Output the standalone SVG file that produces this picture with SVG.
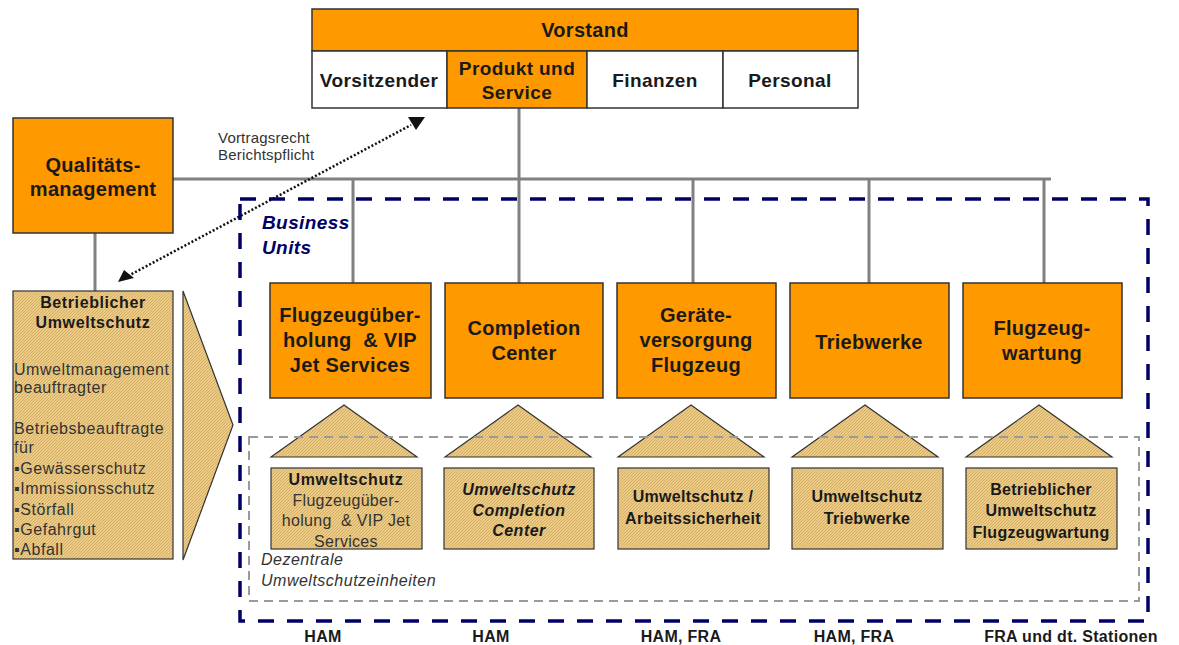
<svg xmlns="http://www.w3.org/2000/svg" width="1179" height="645" viewBox="0 0 1179 645">
<style>
  text { font-family: "Liberation Sans", Arial, sans-serif; fill: #1a1a1a; white-space: pre; }
  .org { fill: #FF9900; stroke: #333333; stroke-width: 1.5; }
  .wht { fill: #FFFFFF; stroke: #333333; stroke-width: 1.5; }
  .hat { fill: url(#hatch); stroke: #333333; stroke-width: 1.2; }
  .conn { stroke: #808080; stroke-width: 3; fill: none; }
  .big { font-size: 20px; font-weight: bold; text-anchor: middle; letter-spacing: 0.3px; }
  .cell { font-size: 19px; font-weight: bold; text-anchor: middle; letter-spacing: 0.4px; }
  .sm { font-size: 16px; text-anchor: middle; letter-spacing: 0.3px; fill: #333; }
  .smb { font-size: 16px; font-weight: bold; text-anchor: middle; letter-spacing: 0.3px; }
  .lst { font-size: 16px; letter-spacing: 0.55px; fill: #333; }
  .loc { font-size: 16px; font-weight: bold; text-anchor: middle; letter-spacing: 0.3px; }
</style>
<defs>
  <pattern id="hatch" width="3" height="3" patternUnits="userSpaceOnUse">
    <rect width="3" height="3" fill="#EECB84"/>
    <path d="M-1,1 L1,-1 M0,3 L3,0 M2,4 L4,2" stroke="#C6A45C" stroke-width="0.7"/>
  </pattern>
</defs>
<rect width="1179" height="645" fill="#FFFFFF"/>

<g id="connectors">
  <line class="conn" x1="173" y1="179" x2="1051" y2="179"/>
  <line class="conn" x1="519" y1="108" x2="519" y2="283"/>
  <line class="conn" x1="353" y1="179" x2="353" y2="283"/>
  <line class="conn" x1="693" y1="179" x2="693" y2="283"/>
  <line class="conn" x1="869" y1="179" x2="869" y2="283"/>
  <line class="conn" x1="1044" y1="179" x2="1044" y2="283"/>
  <line class="conn" x1="95" y1="233" x2="95" y2="291"/>
  <g id="dotted-arrow">
    <line x1="128" y1="276" x2="411" y2="125" stroke="#111" stroke-width="2.5" stroke-dasharray="2 2"/>
    <polygon points="118,282 124,270 134,278" fill="#111"/>
    <polygon points="408,117 425,117 416,130" fill="#111"/>
  </g>
</g>

<g id="business-units-frame">
  <rect x="240" y="199" width="908" height="422" fill="none" stroke="#000066" stroke-width="3.5" stroke-dasharray="16 13"/>
  <text x="262" y="229" font-size="19" font-style="italic" font-weight="bold" style="fill:#000066;letter-spacing:0.4px">Business</text>
  <text x="262" y="254" font-size="19" font-style="italic" font-weight="bold" style="fill:#000066;letter-spacing:0.4px">Units</text>
</g>

<g id="vorstand">
  <rect class="org" x="312" y="9" width="546" height="42"/>
  <text class="big" x="585" y="37">Vorstand</text>
  <rect class="wht" x="312" y="51" width="135" height="57"/>
  <text class="cell" x="379" y="87">Vorsitzender</text>
  <rect class="org" x="447" y="51" width="140" height="57"/>
  <text class="cell" x="517" y="75">Produkt und</text>
  <text class="cell" x="517" y="99">Service</text>
  <rect class="wht" x="587" y="51" width="136" height="57"/>
  <text class="cell" x="655" y="87">Finanzen</text>
  <rect class="wht" x="723" y="51" width="135" height="57"/>
  <text class="cell" x="790" y="87">Personal</text>
</g>

<g id="qualitaetsmanagement">
  <rect class="org" x="13" y="118" width="160" height="115"/>
  <text class="big" x="93" y="172">Qualitäts-</text>
  <text class="big" x="93" y="196">management</text>
</g>

<g id="vortrag-label">
  <text x="218" y="143" font-size="15" style="fill:#333;letter-spacing:0.2px">Vortragsrecht</text>
  <text x="218" y="160" font-size="15" style="fill:#333;letter-spacing:0.2px">Berichtspflicht</text>
</g>

<g id="betrieblicher-umweltschutz">
  <rect class="hat" x="13" y="291" width="160" height="268"/>
  <text x="93" y="308" font-size="16" font-weight="bold" text-anchor="middle" style="letter-spacing:0.6px">Betrieblicher</text>
  <text x="93" y="328" font-size="16" font-weight="bold" text-anchor="middle" style="letter-spacing:0.6px">Umweltschutz</text>
  <text class="lst" x="14" y="375">Umweltmanagement</text>
  <text class="lst" x="14" y="393">beauftragter</text>
  <text class="lst" x="14" y="434">Betriebsbeauftragte</text>
  <text class="lst" x="14" y="453">für</text>
  <text class="lst" x="14" y="474">▪Gewässerschutz</text>
  <text class="lst" x="14" y="494">▪Immissionsschutz</text>
  <text class="lst" x="14" y="515">▪Störfall</text>
  <text class="lst" x="14" y="535">▪Gefahrgut</text>
  <text class="lst" x="14" y="555">▪Abfall</text>
</g>

<g id="chevron">
  <polygon class="hat" points="183,291 233,425 183,560"/>
</g>

<g id="bu-flugzeugueberholung">
  <rect class="org" x="270" y="283" width="161" height="115"/>
  <text class="big" x="350" y="322">Flugzeugüber-</text>
  <text class="big" x="350" y="347">holung  &amp; VIP</text>
  <text class="big" x="350" y="372">Jet Services</text>
</g>
<g id="bu-completion">
  <rect class="org" x="445" y="283" width="158" height="115"/>
  <text class="big" x="524" y="335">Completion</text>
  <text class="big" x="524" y="360">Center</text>
</g>
<g id="bu-geraeteversorgung">
  <rect class="org" x="617" y="283" width="159" height="115"/>
  <text class="big" x="696" y="322">Geräte-</text>
  <text class="big" x="696" y="347">versorgung</text>
  <text class="big" x="696" y="372">Flugzeug</text>
</g>
<g id="bu-triebwerke">
  <rect class="org" x="790" y="283" width="159" height="115"/>
  <text class="big" x="869" y="349">Triebwerke</text>
</g>
<g id="bu-flugzeugwartung">
  <rect class="org" x="963" y="283" width="159" height="115"/>
  <text class="big" x="1042" y="335">Flugzeug-</text>
  <text class="big" x="1042" y="360">wartung</text>
</g>

<g id="triangles">
  <polygon class="hat" points="271,457 344,405 417,457"/>
  <polygon class="hat" points="445,457 518,405 591,457"/>
  <polygon class="hat" points="618,457 691,405 764,457"/>
  <polygon class="hat" points="792,457 865,405 938,457"/>
  <polygon class="hat" points="966,457 1039,405 1112,457"/>
</g>

<g id="dezentrale-frame">
  <rect x="249" y="437" width="890" height="164" fill="none" stroke="#9a9a9a" stroke-width="2" stroke-dasharray="9 6"/>
  <text x="261" y="565" font-size="16" font-style="italic" style="fill:#333;letter-spacing:0.5px">Dezentrale</text>
  <text x="261" y="586" font-size="16" font-style="italic" style="fill:#333;letter-spacing:0.5px">Umweltschutzeinheiten</text>
</g>

<g id="ue-flugzeugueberholung">
  <rect class="hat" x="271" y="468" width="151" height="81"/>
  <text x="346" y="485" font-size="16" font-weight="bold" text-anchor="middle" style="letter-spacing:0.6px">Umweltschutz</text>
  <text class="sm" x="346" y="506">Flugzeugüber-</text>
  <text class="sm" x="346" y="526">holung  &amp; VIP Jet</text>
  <text class="sm" x="346" y="547">Services</text>
</g>
<g id="ue-completion">
  <rect class="hat" x="444" y="468" width="150" height="81"/>
  <text x="519" y="495" font-size="16" font-weight="bold" font-style="italic" text-anchor="middle" style="letter-spacing:0.5px">Umweltschutz</text>
  <text x="519" y="516" font-size="16" font-weight="bold" font-style="italic" text-anchor="middle" style="letter-spacing:0.5px">Completion</text>
  <text x="519" y="536" font-size="16" font-weight="bold" font-style="italic" text-anchor="middle" style="letter-spacing:0.5px">Center</text>
</g>
<g id="ue-arbeitssicherheit">
  <rect class="hat" x="618" y="468" width="151" height="81"/>
  <text class="smb" x="693" y="502">Umweltschutz /</text>
  <text class="smb" x="693" y="524">Arbeitssicherheit</text>
</g>
<g id="ue-triebwerke">
  <rect class="hat" x="792" y="468" width="151" height="81"/>
  <text class="smb" x="867" y="502">Umweltschutz</text>
  <text class="smb" x="867" y="524">Triebwerke</text>
</g>
<g id="ue-flugzeugwartung">
  <rect class="hat" x="966" y="468" width="151" height="81"/>
  <text class="smb" x="1041" y="495">Betrieblicher</text>
  <text class="smb" x="1041" y="516">Umweltschutz</text>
  <text class="smb" x="1041" y="538">Flugzeugwartung</text>
</g>

<g id="locations">
  <text class="loc" x="323" y="642">HAM</text>
  <text class="loc" x="491" y="642">HAM</text>
  <text class="loc" x="681" y="642">HAM, FRA</text>
  <text class="loc" x="854" y="642">HAM, FRA</text>
  <text class="loc" x="1071" y="642">FRA und dt. Stationen</text>
</g>
</svg>
